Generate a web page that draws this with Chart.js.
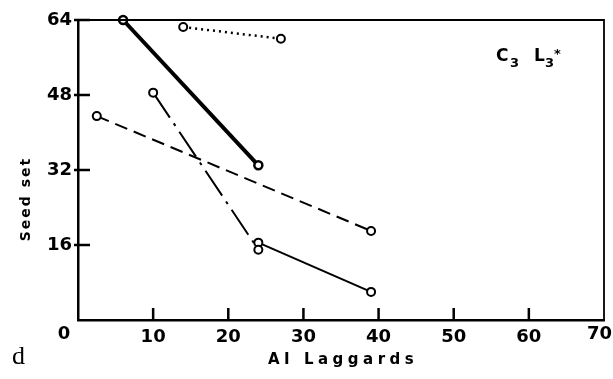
<!DOCTYPE html>
<html>
<head>
<meta charset="utf-8">
<script src="https://cdn.jsdelivr.net/npm/chart.js@4/dist/chart.umd.min.js"></script>
<style>
    html, body { margin: 0; padding: 0; background: #fff; }
    #wrap { width: 613px; height: 379px; }
</style>
</head>
<body>
<div id="wrap"><canvas id="myChart" width="613" height="379"></canvas></div>
<script>
// values
const thickX = [6, 24];
const thickY = [64, 33];
const dottedX = [14, 27];
const dottedY = [62.5, 60];
const dashedX = [2.5, 39];
const dashedY = [43.5, 19];
const dashDotX = [10, 24];
const dashDotY = [48.5, 15];
const thinX = [24, 39];
const thinY = [16.5, 6];

const xTicks = [0, 10, 20, 30, 40, 50, 60, 70];
const yTicks = [16, 32, 48, 64];

const xTitle = 'AI Laggards';
const yTitle = 'Seed set';
const panelLetter = 'd';

function pts(xs, ys) {
    return xs.map(function (x, i) { return {x: x, y: ys[i]}; });
}

function line(xs, ys, width, dash, pointWidth) {
    return {
        data: pts(xs, ys),
        showLine: true,
        borderColor: '#000',
        borderWidth: width,
        borderDash: dash,
        pointRadius: 4,
        pointBorderWidth: pointWidth || 2,
        pointBackgroundColor: '#fff',
        pointBorderColor: '#000',
        clip: false
    };
}

const font = 'DejaVu Sans';
const firstX = xTicks[0];
const lastX = xTicks[xTicks.length - 1];

// frame, inward ticks and the hand placed texts
const extras = {
    id: 'extras',
    afterDraw(chart) {
        const ctx = chart.ctx;
        const a = chart.chartArea;
        const xs = chart.scales.x;
        const ys = chart.scales.y;
        ctx.save();
        ctx.setLineDash([]);
        ctx.strokeStyle = '#000';
        ctx.lineWidth = 1.8;
        ctx.beginPath();
        ctx.moveTo(a.left, a.top);
        ctx.lineTo(a.right, a.top);
        ctx.lineTo(a.right, a.bottom);
        ctx.stroke();

        // ticks point into the plot
        ctx.lineWidth = 2.5;
        ctx.beginPath();
        for (const v of xTicks.slice(1, -1)) {
            const px = xs.getPixelForValue(v);
            ctx.moveTo(px, a.bottom);
            ctx.lineTo(px, a.bottom - 12);
        }
        for (const v of yTicks) {
            const py = ys.getPixelForValue(v);
            ctx.moveTo(a.left - 4, py);
            ctx.lineTo(a.left + 12, py);
        }
        ctx.stroke();

        // corner 0 and the last x label sit a little off their ticks
        ctx.fillStyle = '#000';
        ctx.font = 'bold 18px "' + font + '"';
        ctx.textAlign = 'center';
        ctx.textBaseline = 'middle';
        ctx.fillText(String(firstX), a.left - 14, a.bottom + 14);
        ctx.textAlign = 'right';
        ctx.fillText(String(lastX), 612, a.bottom + 14);

        // x title
        ctx.textAlign = 'left';
        ctx.font = 'bold 15px "' + font + '"';
        ctx.letterSpacing = '4.5px';
        ctx.fillText(xTitle, 268, 360);

        // y title
        ctx.save();
        ctx.translate(26, 199);
        ctx.rotate(-Math.PI / 2);
        ctx.font = 'bold 14px "' + font + '"';
        ctx.letterSpacing = '2px';
        ctx.textAlign = 'center';
        ctx.fillText(yTitle, 0, 0);
        ctx.restore();

        // C3 L3* note
        ctx.letterSpacing = '0px';
        ctx.font = 'bold 17px "' + font + '"';
        ctx.textAlign = 'left';
        ctx.fillText('C', 496, 57);
        ctx.fillText('L', 534, 57);
        ctx.font = 'bold 13px "' + font + '"';
        ctx.fillText('3', 510, 64);
        ctx.fillText('3', 545, 64);
        ctx.fillText('*', 554, 55);

        // panel letter
        ctx.font = '26px "Liberation Serif"';
        ctx.fillText(panelLetter, 12, 357);
        ctx.restore();
    }
};

document.addEventListener("DOMContentLoaded", function () {
    const ctx = document.getElementById('myChart').getContext('2d');
    new Chart(ctx, {
        type: 'scatter',
        data: {
            datasets: [
                line(thickX, thickY, 4, [], 2.5),
                line(dottedX, dottedY, 2.5, [2, 4]),
                line(dashedX, dashedY, 2, [13, 7]),
                line(dashDotX, dashDotY, 2, [30, 7, 3, 7]),
                line(thinX, thinY, 2, [])
            ]
        },
        options: {
            responsive: false,
            animation: false,
            layout: { padding: { top: 20, right: 9, left: 0, bottom: 0 } },
            plugins: { legend: { display: false }, tooltip: { enabled: false } },
            scales: {
                x: {
                    type: 'linear',
                    min: firstX, max: lastX,
                    afterFit: function (s) {
                        s.height = 59;
                        s.paddingLeft = 0;
                        s.paddingRight = 0;
                    },
                    afterBuildTicks: function (s) { s.ticks = xTicks.map(function (v) { return {value: v}; }); },
                    grid: { display: false, drawTicks: false },
                    border: { color: '#000', width: 2.5 },
                    ticks: {
                        padding: 7,
                        color: '#000',
                        font: { family: font, size: 18, weight: 'bold' },
                        callback: function (v) { return (v === firstX || v === lastX) ? '' : v; }
                    }
                },
                y: {
                    type: 'linear',
                    min: 0, max: 64,
                    afterFit: function (s) {
                        s.width = 78;
                        s.paddingTop = 0;
                        s.paddingBottom = 0;
                    },
                    afterBuildTicks: function (s) { s.ticks = yTicks.map(function (v) { return {value: v}; }); },
                    grid: { display: false, drawTicks: false },
                    border: { color: '#000', width: 2.5 },
                    ticks: {
                        padding: 6,
                        color: '#000',
                        font: { family: font, size: 18, weight: 'bold' }
                    }
                }
            }
        },
        plugins: [extras]
    });
});
</script>
</body>
</html>
